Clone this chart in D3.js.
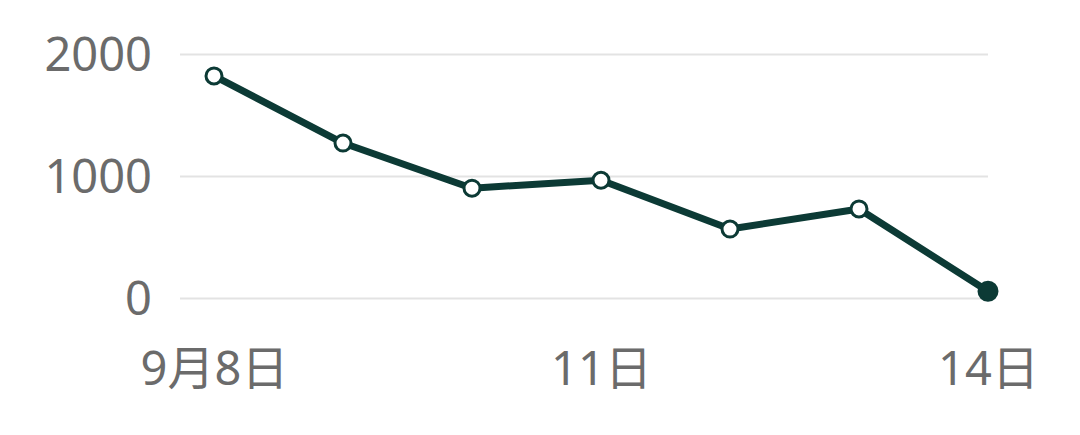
<!DOCTYPE html>
<html>
<head>
<meta charset="utf-8">
<script src="https://cdn.jsdelivr.net/npm/d3@7"></script>
<style>
  html, body { margin: 0; padding: 0; background: #fff; }
  svg { display: block; }
  text { font-family: "Noto Sans", "Noto Sans CJK SC", sans-serif; fill: #6b6b6b; }
</style>
</head>
<body>
<svg id="chart" width="1080" height="435"></svg>
<script>
// 9月8日 ~ 14日
const days = ['9月8日', '9日', '10日', '11日', '12日', '13日', '14日'];
const values = [1820, 1270, 900, 965, 565, 730, 55];
const yTicks = [0, 1000, 2000];
const xLabelIdx = [0, 3, 6];

main();

function main () {
  const svg = d3.select('svg#chart');
  const left = 214, right = 988, top = 54, bottom = 298;

  const x = d3.scalePoint().domain(days).range([left, right]);
  const y = d3.scaleLinear().domain([0, 2000]).range([bottom, top]);

  // grid lines
  const yAxis = d3.axisLeft(y).tickValues(yTicks).tickSize(-(right - 180)).tickPadding(28).tickFormat(d3.format('d'));
  const gy = svg.append('g').attr('transform', `translate(180,0)`).call(yAxis);
  gy.select('.domain').remove();
  gy.selectAll('.tick line').attr('stroke', '#e3e3e3').attr('stroke-width', 2);
  gy.selectAll('.tick text').attr('font-size', 47).attr('fill', '#6b6b6b').attr('dy', '0.36em');

  // x labels
  const xAxis = d3.axisBottom(x).tickValues(xLabelIdx.map(i => days[i])).tickSize(0).tickPadding(0);
  const gx = svg.append('g').attr('transform', `translate(0,${bottom})`).call(xAxis);
  gx.select('.domain').remove();
  gx.selectAll('.tick text').attr('font-size', 47).attr('fill', '#6b6b6b').attr('y', 87).attr('dy', 0);

  const line = d3.line().x((d, i) => x(days[i])).y(d => y(d));
  svg.append('path')
    .attr('d', line(values))
    .attr('fill', 'none')
    .attr('stroke', '#0c3a35')
    .attr('stroke-width', 7)
    .attr('stroke-linejoin', 'round');

  svg.selectAll('circle.pt').data(values).enter().append('circle')
    .attr('class', 'pt')
    .attr('cx', (d, i) => x(days[i]))
    .attr('cy', d => y(d))
    .attr('r', (d, i) => i === values.length - 1 ? 9 : 8)
    .attr('fill', (d, i) => i === values.length - 1 ? '#0c3a35' : '#fff')
    .attr('stroke', '#0c3a35')
    .attr('stroke-width', 3);
}
</script>
</body>
</html>
